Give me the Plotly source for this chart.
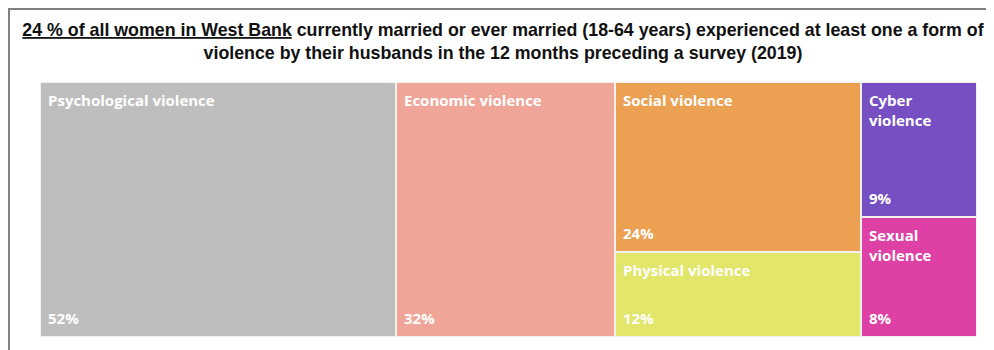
import plotly.graph_objects as go

# ---- data ----
categories = ["Psychological violence", "Economic violence", "Social violence",
              "Physical violence", "Cyber violence", "Sexual violence"]
display_labels = ["Psychological violence", "Economic violence", "Social violence",
                  "Physical violence", "Cyber<br>violence", "Sexual<br>violence"]
values = [52, 32, 24, 12, 9, 8]
column = [0, 1, 2, 2, 3, 3]
colors = ["#BEBEBE", "#EFA598", "#ECA052", "#E2E66B", "#764FC3", "#DE40A6"]
title_text = ("<u>24 % of all women in West Bank</u> currently married or ever married "
              "(18-64 years) experienced at least one a form of<br>"
              "violence by their husbands in the 12 months preceding a survey (2019)")

# ---- slice-dice layout derived from the values ----
ncol = max(column) + 1
col_tot = [sum(v for v, c in zip(values, column) if c == k) for k in range(ncol)]
col_x0 = [sum(col_tot[:k]) for k in range(ncol)]
total = sum(values)

xc, wd, hts, bases, lefts, tops = [], [], [], [], [], []
used = [0.0] * ncol
for v, c in zip(values, column):
    h = v / col_tot[c]
    top = 1 - used[c]
    used[c] += h
    xc.append(col_x0[c] + col_tot[c] / 2)
    wd.append(col_tot[c])
    hts.append(h)
    bases.append(top - h)
    lefts.append(col_x0[c])
    tops.append(top)

fig = go.Figure()
fig.add_trace(go.Bar(
    x=xc, y=hts, width=wd, base=bases,
    marker=dict(color=colors, line=dict(color="#F4F0EE", width=2)),
    hovertext=categories, hoverinfo="text",
    showlegend=False,
))

font_lbl = dict(family="Open Sans, Lato, sans-serif", size=15, color="white")
for lab, v, l, t, b in zip(display_labels, values, lefts, tops, bases):
    fig.add_annotation(x=l, y=t, xref="x", yref="y", text="<b>%s</b>" % lab,
                       showarrow=False, xanchor="left", yanchor="top",
                       align="left", xshift=6, yshift=-6, font=font_lbl)
    fig.add_annotation(x=l, y=b, xref="x", yref="y", text="<b>%d%%</b>" % v,
                       showarrow=False, xanchor="left", yanchor="bottom",
                       align="left", xshift=6, yshift=7, font=font_lbl)

# frame around the picture
fig.add_shape(type="rect", xref="paper", yref="paper",
              x0=-0.0331, x1=1.0139, y0=-0.2, y1=1.286,
              line=dict(color="#808080", width=2), fillcolor="rgba(0,0,0,0)")

fig.update_layout(
    width=986, height=342,
    margin=dict(l=32, r=17, t=74, b=13),
    paper_bgcolor="white", plot_bgcolor="white",
    barmode="overlay", bargap=0,
    title=dict(text=title_text, x=0.502, xanchor="center", y=0.918, yanchor="top",
               font=dict(family="Liberation Sans Narrow, Arial Narrow, sans-serif",
                         size=17.8, color="#111111", weight="bold")),
    xaxis=dict(range=[0, total], visible=False, fixedrange=True),
    yaxis=dict(range=[0, 1], visible=False, fixedrange=True),
)

fig.write_html("out.html")
